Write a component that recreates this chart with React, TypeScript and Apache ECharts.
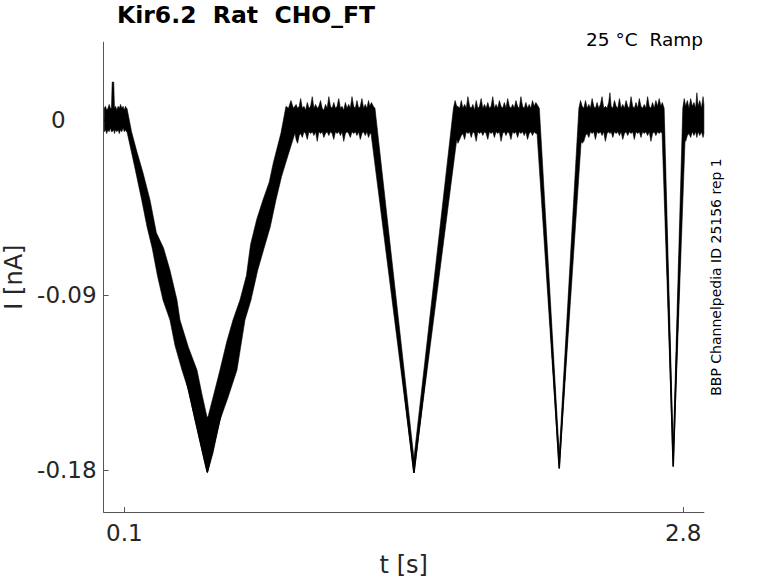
import React, { useEffect, useRef } from 'react';
import * as echarts from 'echarts';

const FONT = '"DejaVu Sans", sans-serif';

const xTicks = [0.1, 2.8];
const yTicks = [0, -0.09, -0.18];

// centre line of the ramp trace [t (s), I (nA)]
const traceKnots: [number, number][] = [
  [0.003, 0], [0.113, 0], [0.5009, -0.181], [0.905, 0],
  [1.301, 0], [1.4992, -0.1815], [1.7, 0],
  [2.1, 0], [2.2011, -0.179], [2.301, 0],
  [2.7033, 0], [2.7517, -0.178], [2.8034, 0], [2.9, 0],
];

// noisy baselines: [t, upper edge, lower edge]
const base1: [number, number, number][] = [
  [0.003, 0.006, -0.006], [0.009, 0.007, -0.005], [0.015, 0.005, -0.007], [0.021, 0.006, -0.005],
  [0.027, 0.008, -0.006], [0.033, 0.006, -0.004], [0.038, 0.006, -0.006], [0.0415, 0.0195, -0.006],
  [0.049, 0.0195, -0.005], [0.0525, 0.006, -0.007], [0.058, 0.007, -0.005], [0.064, 0.005, -0.006],
  [0.070, 0.007, -0.005], [0.076, 0.006, -0.007], [0.082, 0.008, -0.005], [0.088, 0.006, -0.006],
  [0.094, 0.007, -0.004], [0.100, 0.005, -0.006], [0.106, 0.007, -0.005], [0.110, 0.006, -0.006],
];
const base2: [number, number, number][] = [
  [0.930, 0.008, -0.010], [0.937, 0.006, -0.012], [0.945, 0.007, -0.008], [0.952, 0.011, -0.007],
  [0.960, 0.006, -0.009], [0.968, 0.007, -0.006], [0.976, 0.005, -0.007], [0.984, 0.009, -0.010],
  [0.992, 0.006, -0.006], [1.000, 0.007, -0.007], [1.008, 0.012, -0.006], [1.016, 0.006, -0.008],
  [1.024, 0.008, -0.006], [1.032, 0.006, -0.011], [1.040, 0.007, -0.006], [1.048, 0.010, -0.007],
  [1.056, 0.006, -0.006], [1.064, 0.005, -0.009], [1.072, 0.008, -0.007], [1.080, 0.006, -0.006],
  [1.088, 0.012, -0.008], [1.096, 0.007, -0.006], [1.104, 0.006, -0.007], [1.112, 0.009, -0.010],
  [1.120, 0.006, -0.006], [1.128, 0.007, -0.007], [1.136, 0.011, -0.006], [1.144, 0.006, -0.008],
  [1.152, 0.007, -0.006], [1.160, 0.005, -0.011], [1.168, 0.009, -0.007], [1.176, 0.006, -0.006],
  [1.184, 0.008, -0.007], [1.192, 0.006, -0.009], [1.200, 0.012, -0.006], [1.208, 0.007, -0.007],
  [1.216, 0.006, -0.006], [1.224, 0.010, -0.008], [1.232, 0.006, -0.006], [1.240, 0.007, -0.010],
  [1.248, 0.011, -0.007], [1.256, 0.006, -0.006], [1.264, 0.008, -0.008], [1.272, 0.006, -0.006],
  [1.280, 0.010, -0.009], [1.286, 0.007, -0.007],
];
const base3: [number, number, number][] = [
  [1.712, 0.007, -0.012], [1.720, 0.006, -0.010], [1.728, 0.010, -0.008], [1.736, 0.006, -0.007],
  [1.744, 0.008, -0.010], [1.752, 0.006, -0.006], [1.760, 0.012, -0.007], [1.768, 0.007, -0.006],
  [1.776, 0.006, -0.009], [1.784, 0.008, -0.006], [1.792, 0.005, -0.007], [1.800, 0.010, -0.011],
  [1.808, 0.006, -0.006], [1.816, 0.007, -0.007], [1.824, 0.011, -0.006], [1.832, 0.006, -0.008],
  [1.840, 0.008, -0.006], [1.848, 0.006, -0.007], [1.856, 0.009, -0.010], [1.864, 0.006, -0.006],
  [1.872, 0.007, -0.007], [1.880, 0.012, -0.006], [1.888, 0.006, -0.009], [1.896, 0.008, -0.006],
  [1.904, 0.006, -0.007], [1.912, 0.010, -0.006], [1.920, 0.007, -0.011], [1.928, 0.006, -0.007],
  [1.936, 0.009, -0.006], [1.944, 0.006, -0.008], [1.952, 0.011, -0.006], [1.960, 0.007, -0.007],
  [1.968, 0.006, -0.010], [1.976, 0.008, -0.006], [1.984, 0.006, -0.007], [1.992, 0.010, -0.006],
  [2.000, 0.007, -0.009], [2.008, 0.006, -0.006], [2.016, 0.012, -0.007], [2.024, 0.007, -0.006],
  [2.032, 0.006, -0.008], [2.040, 0.009, -0.006], [2.048, 0.006, -0.010], [2.056, 0.008, -0.007],
  [2.064, 0.006, -0.006], [2.072, 0.010, -0.008], [2.080, 0.007, -0.006], [2.088, 0.009, -0.007],
];
const base4: [number, number, number][] = [
  [2.312, 0.007, -0.012], [2.320, 0.006, -0.011], [2.328, 0.010, -0.008], [2.336, 0.006, -0.007],
  [2.344, 0.008, -0.009], [2.352, 0.006, -0.006], [2.360, 0.011, -0.007], [2.368, 0.007, -0.006],
  [2.376, 0.006, -0.010], [2.384, 0.009, -0.006], [2.392, 0.006, -0.007], [2.400, 0.008, -0.006],
  [2.408, 0.012, -0.008], [2.416, 0.006, -0.006], [2.424, 0.007, -0.011], [2.432, 0.006, -0.007],
  [2.440, 0.009, -0.006], [2.446, 0.014, -0.007], [2.452, 0.007, -0.006], [2.460, 0.006, -0.009],
  [2.468, 0.010, -0.006], [2.476, 0.007, -0.007], [2.484, 0.006, -0.006], [2.492, 0.011, -0.008],
  [2.500, 0.006, -0.006], [2.508, 0.008, -0.010], [2.516, 0.006, -0.007], [2.524, 0.010, -0.006],
  [2.532, 0.007, -0.008], [2.540, 0.006, -0.006], [2.548, 0.012, -0.007], [2.556, 0.007, -0.006],
  [2.564, 0.006, -0.010], [2.572, 0.009, -0.006], [2.580, 0.006, -0.007], [2.588, 0.011, -0.006],
  [2.596, 0.007, -0.009], [2.604, 0.006, -0.006], [2.612, 0.008, -0.007], [2.620, 0.006, -0.006],
  [2.628, 0.012, -0.008], [2.636, 0.007, -0.006], [2.644, 0.006, -0.011], [2.652, 0.009, -0.007],
  [2.660, 0.006, -0.006], [2.668, 0.010, -0.008], [2.676, 0.007, -0.006], [2.684, 0.011, -0.007],
  [2.692, 0.007, -0.006],
];
const base5: [number, number, number][] = [
  [2.812, 0.007, -0.011], [2.820, 0.010, -0.008], [2.828, 0.006, -0.007], [2.836, 0.011, -0.009],
  [2.844, 0.007, -0.006], [2.852, 0.009, -0.008], [2.860, 0.006, -0.006], [2.866, 0.014, -0.009],
  [2.872, 0.007, -0.006], [2.880, 0.010, -0.008], [2.888, 0.006, -0.006], [2.896, 0.012, -0.009],
  [2.900, 0.008, -0.007],
];

// edges of the ramp sweeps [t, I]
const v1Upper: [number, number][] = [
  [0.113, 0.006], [0.135, -0.006], [0.16, -0.016], [0.19, -0.027], [0.2241, -0.0411],
  [0.255, -0.058], [0.29, -0.066], [0.32, -0.077], [0.3545, -0.0926], [0.369, -0.1029],
  [0.41, -0.117], [0.4512, -0.1286], [0.475, -0.141], [0.4994, -0.1527], [0.5043, -0.1527],
  [0.535, -0.140], [0.5622, -0.1286], [0.595, -0.114], [0.625, -0.1029], [0.6588, -0.0926],
  [0.69, -0.080], [0.71, -0.064], [0.74, -0.051], [0.7699, -0.0411], [0.80, -0.032],
  [0.82, -0.022], [0.8568, -0.0067], [0.881, 0.007], [0.893, 0.006], [0.905, 0.010], [0.917, 0.006],
];
const v1Lower: [number, number][] = [
  [0.113, -0.006], [0.15, -0.024], [0.184, -0.0411], [0.21, -0.055], [0.235, -0.066],
  [0.26, -0.080], [0.2869, -0.0926], [0.3207, -0.1029], [0.345, -0.116], [0.3787, -0.1286],
  [0.41, -0.139], [0.4415, -0.1543], [0.4801, -0.1723], [0.5009, -0.1816], [0.5284, -0.1713],
  [0.5622, -0.1543], [0.60, -0.143], [0.6443, -0.1286], [0.6829, -0.1029], [0.712, -0.0926],
  [0.745, -0.077], [0.775, -0.066], [0.805, -0.055], [0.8327, -0.0411], [0.86, -0.029],
  [0.88, -0.022], [0.9245, -0.0067],
];
const v2Upper: [number, number][] = [[1.294, 0.009], [1.303, 0.007], [1.311, 0.006], [1.4992, -0.174], [1.690, 0.006], [1.698, 0.010], [1.706, 0.007]];
const v2Lower: [number, number][] = [[1.292, -0.007], [1.4992, -0.1815], [1.706, -0.010]];
const v3Upper: [number, number][] = [[2.094, 0.008], [2.105, 0.006], [2.2011, -0.172], [2.296, 0.006], [2.304, 0.010]];
const v3Lower: [number, number][] = [[2.094, -0.007], [2.2011, -0.1795], [2.307, -0.011]];
const v4Upper: [number, number][] = [[2.699, 0.009], [2.708, 0.006], [2.7517, -0.170], [2.798, 0.006], [2.805, 0.011]];
const v4Lower: [number, number][] = [[2.698, -0.007], [2.7517, -0.1785], [2.809, -0.010]];

function buildOutline(): number[][] {
  const hi = (b: [number, number, number][]) => b.map(([t, h]) => [t, h]);
  const lo = (b: [number, number, number][]) => b.map(([t, , l]) => [t, l]);
  const upper = [
    ...hi(base1), ...v1Upper, ...hi(base2), ...v2Upper, ...hi(base3), ...v3Upper,
    ...hi(base4), ...v4Upper, ...hi(base5),
  ];
  const lower = [
    ...lo(base1), ...v1Lower, ...lo(base2), ...v2Lower, ...lo(base3), ...v3Lower,
    ...lo(base4), ...v4Lower, ...lo(base5),
  ];
  return [...upper, ...lower.reverse()];
}

export default function App() {
  const ref = useRef<HTMLDivElement>(null);
  useEffect(() => {
    if (!ref.current) return;
    const chart = echarts.init(ref.current, undefined, { renderer: 'svg' });
    const outline = buildOutline();
    const axisColor = '#555555';
    const textColor = '#262626';
    chart.setOption({
      animation: false,
      backgroundColor: '#ffffff',
      grid: { left: 103.6, right: 74.1, top: 42.2, bottom: 71, containLabel: false, outerBoundsMode: 'none' },
      xAxis: {
        type: 'value', min: 0, max: 2.9,
        axisLine: { show: true, onZero: false, lineStyle: { color: axisColor, width: 1 } },
        axisTick: { show: true, inside: true, length: 5, customValues: xTicks, lineStyle: { color: axisColor } },
        axisLabel: {
          customValues: xTicks, fontSize: 23, color: textColor, fontFamily: FONT, margin: 9,
          formatter: (v: number) => String(v),
        },
        splitLine: { show: false },
        name: 't [s]', nameLocation: 'middle', nameGap: 41,
        nameTextStyle: { fontSize: 24, color: textColor, fontFamily: FONT },
      },
      yAxis: {
        type: 'value', min: -0.2016, max: 0.04,
        axisLine: { show: true, onZero: false, lineStyle: { color: axisColor, width: 1 } },
        axisTick: { show: true, inside: true, length: 5, customValues: yTicks, lineStyle: { color: axisColor } },
        axisLabel: {
          customValues: yTicks, fontSize: 23, color: textColor, fontFamily: FONT, margin: 7,
          formatter: (v: number) => (Math.abs(v) < 1e-9 ? '{z|0}' : v.toFixed(2)),
          rich: { z: { fontSize: 23, color: textColor, fontFamily: FONT, padding: [0, 31, 0, 0] } },
        },
        splitLine: { show: false },
        name: 'I [nA]', nameLocation: 'middle', nameGap: 74,
        nameTextStyle: { fontSize: 24, color: textColor, fontFamily: FONT },
      },
      series: [
        {
          type: 'custom',
          coordinateSystem: 'cartesian2d',
          data: [[0, 0]],
          silent: true,
          clip: true,
          z: 2,
          renderItem: (_params: any, api: any) => ({
            type: 'polygon',
            shape: { points: outline.map((p) => api.coord(p)) },
            style: { fill: '#000000', stroke: '#000000', lineWidth: 0.6 },
          }),
        },
        {
          type: 'line',
          data: traceKnots,
          showSymbol: false,
          silent: true,
          z: 3,
          lineStyle: { color: '#000000', width: 1.6 },
        },
      ],
      graphic: [
        {
          type: 'text', x: 117, y: 3,
          style: { text: 'Kir6.2  Rat  CHO_FT', fontSize: 23.5, fontWeight: 'bold', fontFamily: FONT, fill: '#000', align: 'left', verticalAlign: 'top' },
        },
        {
          type: 'text', x: 703, y: 29.5,
          style: { text: '25 °C  Ramp', fontSize: 18.5, fontFamily: FONT, fill: '#000', align: 'right', verticalAlign: 'top' },
        },
        {
          type: 'text', x: 716, y: 277, rotation: Math.PI / 2,
          style: { text: 'BBP Channelpedia ID 25156 rep 1', fontSize: 14, fontFamily: FONT, fill: '#000', align: 'center', verticalAlign: 'middle' },
        },
      ],
    });
    return () => chart.dispose();
  }, []);
  return <div ref={ref} style={{ position: 'fixed', left: 0, top: 0, width: 778, height: 583 }} />;
}
